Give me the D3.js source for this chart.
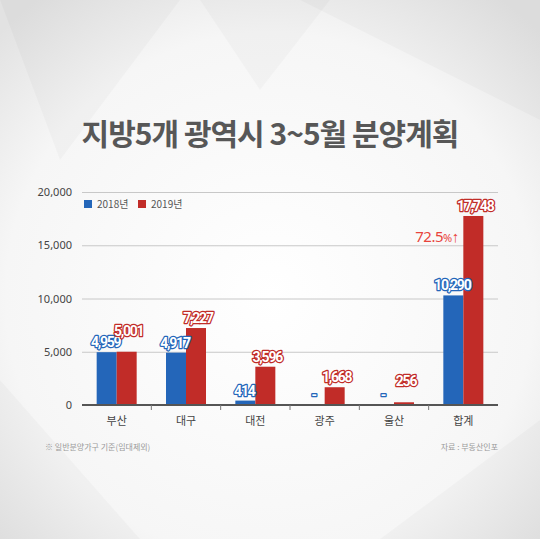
<!DOCTYPE html>
<html>
<head>
<meta charset="utf-8">
<script src="https://cdn.jsdelivr.net/npm/d3@7"></script>
<style>
  body { margin: 0; padding: 0; }
  svg { display: block; font-family: "Noto Sans CJK KR", "Noto Sans", sans-serif; }
</style>
</head>
<body>
<div id="chart"></div>
<script>
// data
var cities = ["부산", "대구", "대전", "광주", "울산", "합계"];
var seriesNames = ["2018년", "2019년"];
var values2018 = [4959, 4917, 414, 0, 0, 10290];
var values2019 = [5001, 7227, 3596, 1668, 256, 17748];
var yTicks = [0, 5000, 10000, 15000, 20000];
var colors = ["#2466b9", "#c12c28"];

var width = 540, height = 539;
var svg = d3.select("#chart").append("svg")
  .attr("width", width)
  .attr("height", height);

// background
var defs = svg.append("defs");
var bg = defs.append("radialGradient").attr("id", "bg")
  .attr("cx", "50%").attr("cy", "55%").attr("r", "70%");
bg.append("stop").attr("offset", "0%").attr("stop-color", "#ffffff");
bg.append("stop").attr("offset", "70%").attr("stop-color", "#f6f6f6");
bg.append("stop").attr("offset", "100%").attr("stop-color", "#e2e2e2");
svg.append("rect").attr("width", width).attr("height", height).attr("fill", "url(#bg)");

// some faint shapes for the faceted background
var shards = [
  [[0,0],[180,0],[60,160]],
  [[300,0],[540,0],[540,120]],
  [[0,380],[140,539],[0,539]],
  [[380,539],[540,420],[540,539]],
  [[200,0],[330,0],[260,90]]
];
svg.selectAll(".shard").data(shards).enter().append("path")
  .attr("class", "shard")
  .attr("d", function(d) { return "M" + d.join("L") + "Z"; })
  .attr("fill", "#000")
  .attr("opacity", 0.025);

// title
svg.append("text")
  .attr("x", 270).attr("y", 145)
  .attr("text-anchor", "middle")
  .attr("font-size", 30)
  .attr("font-weight", "bold")
  .attr("fill", "#575757")
  .attr("letter-spacing", -1)
  .text("지방5개 광역시 3~5월 분양계획");

var padding = {top: 192, left: 82, right: 42, bottom: 134};
var chartArea = {
  width: width - padding.left - padding.right,
  height: height - padding.top - padding.bottom
};

var yScale = d3.scaleLinear().domain([0, 20000]).range([chartArea.height, 0]);
var xScale = d3.scaleBand().domain(cities).range([0, chartArea.width]);
var inner = d3.scaleBand().domain(seriesNames).range([xScale.bandwidth()/2 - 20, xScale.bandwidth()/2 + 20]);

var g = svg.append("g")
  .attr("transform", "translate(" + padding.left + "," + padding.top + ")");

// grid
var yAxis = g.append("g")
  .call(d3.axisLeft(yScale).tickValues(yTicks).tickSize(-chartArea.width).tickFormat(d3.format(",")));
yAxis.select(".domain").remove();
yAxis.selectAll(".tick line").attr("stroke", "#c8c8c8").attr("stroke-width", 1);
yAxis.selectAll(".tick text")
  .attr("x", -10)
  .attr("font-size", 11)
  .attr("fill", "#444")
  .attr("font-family", "Noto Sans, sans-serif");

// bars
var rows = cities.map(function(c, i) {
  return {city: c, vals: [values2018[i], values2019[i]]};
});

var groups = g.selectAll(".grp").data(rows).enter().append("g")
  .attr("class", "grp")
  .attr("transform", function(d) { return "translate(" + xScale(d.city) + ",0)"; });

function pairs(d) {
  return d.vals.map(function(v, k) { return {k: k, v: v, other: d.vals[1 - k]}; });
}

groups.selectAll("rect")
  .data(pairs)
  .enter().append("rect")
  .attr("x", function(d) { return inner(seriesNames[d.k]); })
  .attr("width", inner.bandwidth())
  .attr("y", function(d) { return yScale(d.v); })
  .attr("height", function(d) { return chartArea.height - yScale(d.v); })
  .attr("fill", function(d) { return colors[d.k]; });

// x axis
var xAxis = g.append("g")
  .attr("transform", "translate(0," + chartArea.height + ")");
xAxis.append("line")
  .attr("x1", 0).attr("x2", chartArea.width)
  .attr("stroke", "#555").attr("stroke-width", 2);
xAxis.selectAll(".sep").data(cities.slice(1)).enter().append("line")
  .attr("x1", function(d) { return xScale(d); })
  .attr("x2", function(d) { return xScale(d); })
  .attr("y1", 0).attr("y2", 5)
  .attr("stroke", "#777");
xAxis.selectAll(".lbl").data(cities).enter().append("text")
  .attr("x", function(d) { return xScale(d) + xScale.bandwidth()/2; })
  .attr("y", 20)
  .attr("text-anchor", "middle")
  .attr("font-size", 11)
  .attr("fill", "#444")
  .text(function(d) { return d; });

// value labels (white with coloured outline)
groups.selectAll(".val")
  .data(pairs)
  .enter().append("text")
  .attr("class", "val")
  .attr("x", function(d) {
    var cx = inner(seriesNames[d.k]) + inner.bandwidth()/2;
    return cx + (d.k == 0 ? -1 : 2);
  })
  .attr("y", function(d) {
    // lift the 2019 label when both bars are nearly the same height
    var lift = (d.k == 1 && Math.abs(d.v - d.other) < 1000) ? 11 : 0;
    return yScale(d.v) - 5 - lift;
  })
  .attr("text-anchor", "middle")
  .attr("font-size", 14)
  .attr("font-weight", "bold")
  .attr("letter-spacing", -1.2)
  .attr("font-family", "Liberation Sans Narrow, Roboto, sans-serif")
  .attr("fill", "#fff")
  .attr("stroke", function(d) { return colors[d.k]; })
  .attr("stroke-width", 2.5)
  .attr("paint-order", "stroke")
  .attr("stroke-linejoin", "round")
  .text(function(d) { return d.v == 0 ? "-" : d3.format(",")(d.v); });

// growth annotation
g.append("text")
  .attr("x", xScale("합계") + 30)
  .attr("y", yScale(15000) - 3)
  .attr("text-anchor", "end")
  .attr("font-size", 15)
  .attr("fill", "#e8443c")
  .attr("letter-spacing", -0.5)
  .attr("font-family", "Noto Sans, sans-serif")
  .html('72.5<tspan font-size="11">%</tspan>↑');

// legend
var legend = g.append("g").attr("transform", "translate(2,8)");
seriesNames.forEach(function(s, i) {
  var lg = legend.append("g").attr("transform", "translate(" + (i * 54) + ",0)");
  lg.append("rect").attr("width", 8).attr("height", 8).attr("fill", colors[i]);
  lg.append("text").attr("x", 13).attr("y", 8)
    .attr("font-size", 10).attr("fill", "#555")
    .text(s);
});

// notes
svg.append("text")
  .attr("x", 45).attr("y", 450)
  .attr("font-size", 8).attr("fill", "#999")
  .text("※ 일반분양가구 기준(임대제외)");
svg.append("text")
  .attr("x", 498).attr("y", 450)
  .attr("text-anchor", "end")
  .attr("font-size", 8).attr("fill", "#999")
  .text("자료 : 부동산인포");
</script>
</body>
</html>
